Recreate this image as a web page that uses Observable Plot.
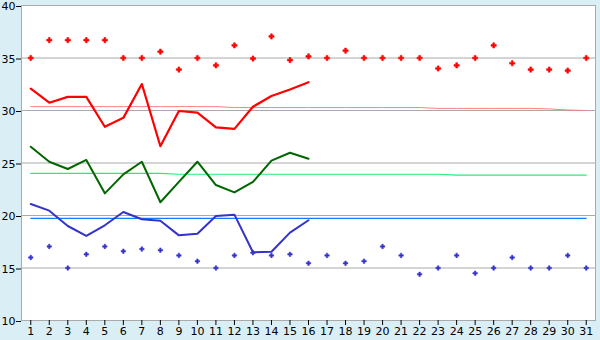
<!DOCTYPE html>
<html>
<head>
<meta charset="utf-8">
<script src="https://cdn.jsdelivr.net/npm/d3@7"></script>
<script src="https://cdn.jsdelivr.net/npm/@observablehq/plot@0.6"></script>
<style>
  html, body { margin: 0; padding: 0; background: #daeff5; }
  #chart { width: 600px; height: 340px; }
</style>
</head>
<body>
<div id="chart"></div>
<script>
const days = d3.range(1, 32);
const yTicks = [10, 15, 20, 25, 30, 35, 40];
const gridValues = [15, 20, 25, 30, 35];

const redMarkers = [35, 36.7, 36.7, 36.7, 36.7, 35, 35, 35.6, 33.9, 35,
  34.3, 36.2, 34.95, 37.05, 34.8, 35.15, 35, 35.7, 35, 35, 35,
  35, 34.0, 34.3, 35, 36.2, 34.5, 33.9, 33.9, 33.8, 35];
const blueMarkers = [16.0, 17.05, 15.0, 16.3, 17.05, 16.6, 16.8, 16.7, 16.2, 15.65,
  15.0, 16.2, 16.45, 16.2, 16.3, 15.45, 16.2, 15.45, 15.65, 17.05, 16.2,
  14.4, 15.0, 16.2, 14.5, 15.0, 16.0, 15.0, 15.0, 16.2, 15.0];

const redLine = [32.08, 30.74, 31.3, 31.3, 28.45, 29.3, 32.52, 26.6, 29.95, 29.8,
  28.4, 28.25, 30.36, 31.38, 32.0, 32.7];
const greenLine = [26.55, 25.12, 24.43, 25.29, 22.11, 23.92, 25.12, 21.26, 23.2, 25.12,
  22.9, 22.2, 23.2, 25.22, 25.98, 25.41];
const blueLine = [21.1, 20.46, 19.0, 18.05, 19.07, 20.33, 19.64, 19.5, 18.11, 18.27,
  19.95, 20.08, 16.5, 16.55, 18.37, 19.55];

const redNormal = [30.37, 30.37, 30.37, 30.37, 30.37, 30.37, 30.37, 30.37, 30.37, 30.37,
  30.37, 30.28, 30.28, 30.28, 30.28, 30.28, 30.28, 30.28, 30.28, 30.28, 30.28,
  30.28, 30.2, 30.2, 30.2, 30.2, 30.2, 30.2, 30.15, 30.05, 30.0];
const greenNormal = [24.02, 24.02, 24.02, 24.02, 24.02, 24.02, 24.02, 24.02, 23.93, 23.93,
  23.93, 23.93, 23.93, 23.93, 23.93, 23.93, 23.93, 23.93, 23.93, 23.93, 23.93,
  23.93, 23.93, 23.85, 23.85, 23.85, 23.85, 23.85, 23.85, 23.85, 23.85];
const blueNormal = days.map(() => 19.73);

const toRows = (arr) => arr.map((v, i) => ({day: i + 1, v}));

const chart = Plot.plot({
  width: 600,
  height: 340,
  marginLeft: 21,
  marginRight: 5,
  marginTop: 5,
  marginBottom: 20,
  style: {background: "transparent", fontFamily: "DejaVu Sans, Verdana, sans-serif", fontSize: "11px", color: "#000"},
  x: {type: "linear", domain: [0.5, 31.5], label: null},
  y: {domain: [10, 40], label: null},
  marks: [
    Plot.frame({fill: "white", stroke: "#aaaaaa"}),
    Plot.ruleY(gridValues, {stroke: "#aaaaaa", strokeWidth: 1}),
    Plot.line(toRows(redNormal), {x: "day", y: "v", stroke: "#ff8080", strokeWidth: 1}),
    Plot.line(toRows(greenNormal), {x: "day", y: "v", stroke: "#22ee77", strokeWidth: 1.2}),
    Plot.line(toRows(blueNormal), {x: "day", y: "v", stroke: "#0a80ff", strokeWidth: 1.2}),
    Plot.line(toRows(redLine), {x: "day", y: "v", stroke: "#ff0000", strokeWidth: 2.2}),
    Plot.line(toRows(greenLine), {x: "day", y: "v", stroke: "#006600", strokeWidth: 2}),
    Plot.line(toRows(blueLine), {x: "day", y: "v", stroke: "#3333cc", strokeWidth: 2}),
    Plot.dot(toRows(redMarkers), {x: "day", y: "v", symbol: "cross", fill: "#ff0000", stroke: "#ff0000", strokeWidth: 0.6, r: 2.2}),
    Plot.dot(toRows(blueMarkers), {x: "day", y: "v", symbol: "cross", fill: "#3333cc", stroke: "#3333cc", strokeWidth: 0.5, r: 1.9}),
    Plot.axisX({ticks: days, tickFormat: d => d, tickSize: 5, tickPadding: 2, stroke: "#000", color: "#000", fontSize: 11}),
    Plot.axisY({ticks: yTicks, tickSize: 5, tickPadding: 1, stroke: "#000", color: "#000", fontSize: 11, dy: 1})
  ]
});
document.getElementById("chart").appendChild(chart);
</script>
</body>
</html>
